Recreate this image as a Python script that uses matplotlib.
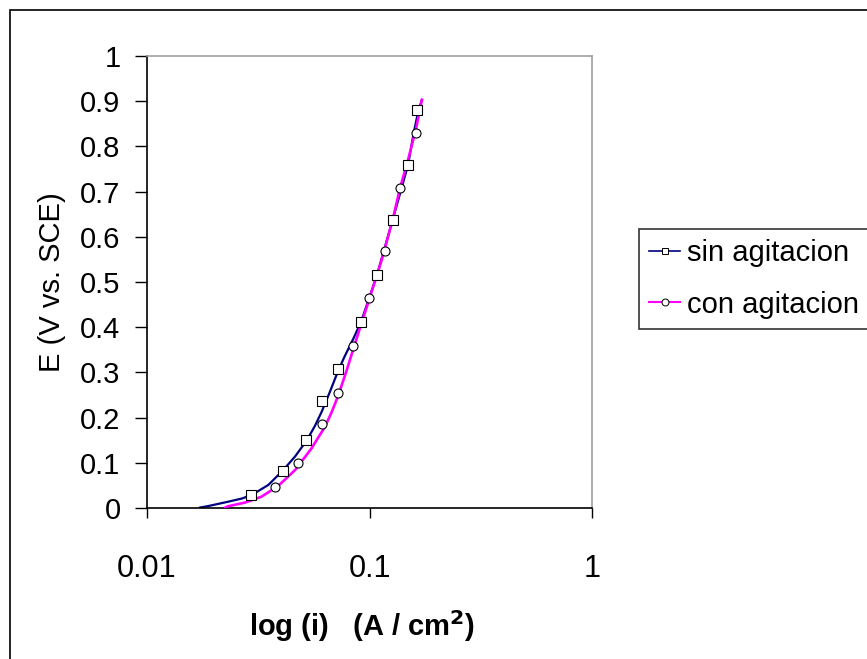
import matplotlib
matplotlib.use('Agg')
import matplotlib.pyplot as plt
from matplotlib.lines import Line2D
from matplotlib.patches import Rectangle

plt.rcParams['font.family'] = ['Liberation Sans', 'DejaVu Sans']

# curve traces (current density A/cm2, potential V vs SCE)
sin_line_i = [0.0173, 0.0189, 0.0232, 0.0267, 0.0296, 0.0351, 0.0408, 0.0463, 0.0523,
              0.0569, 0.0611, 0.0665, 0.0725, 0.0776, 0.0845, 0.0918, 0.108, 0.127,
              0.149, 0.158, 0.166, 0.172]
sin_line_E = [0.001, 0.0044, 0.014, 0.021, 0.029, 0.051, 0.083, 0.114, 0.150,
              0.182, 0.214, 0.258, 0.305, 0.337, 0.374, 0.413, 0.515, 0.637,
              0.759, 0.830, 0.880, 0.903]
con_line_i = [0.0225, 0.0232, 0.0276, 0.0327, 0.0389, 0.0463, 0.0549, 0.0631, 0.0676,
              0.0725, 0.0790, 0.0846, 0.0922, 0.0998, 0.1135, 0.127, 0.137, 0.149,
              0.162, 0.172]
con_line_E = [0.001, 0.004, 0.012, 0.025, 0.049, 0.084, 0.132, 0.180, 0.212,
              0.250, 0.305, 0.352, 0.410, 0.462, 0.549, 0.637, 0.707, 0.770,
              0.840, 0.903]

# marker points
sin_mk_i = [0.0293, 0.0410, 0.0519, 0.0613, 0.0721, 0.0918, 0.108, 0.127, 0.149, 0.163]
sin_mk_E = [0.029, 0.082, 0.150, 0.237, 0.307, 0.411, 0.515, 0.637, 0.759, 0.880]
con_mk_i = [0.0376, 0.0479, 0.0613, 0.0721, 0.0846, 0.0995, 0.118, 0.137, 0.162]
con_mk_E = [0.047, 0.099, 0.185, 0.255, 0.359, 0.464, 0.568, 0.707, 0.829]

y_ticks = [0, 0.1, 0.2, 0.3, 0.4, 0.5, 0.6, 0.7, 0.8, 0.9, 1]
y_labels = ['0', '0.1', '0.2', '0.3', '0.4', '0.5', '0.6', '0.7', '0.8', '0.9', '1']
x_ticks = [0.01, 0.1, 1]
x_labels = ['0.01', '0.1', '1']

W, H = 867, 659
fig = plt.figure(figsize=(W / 100, H / 100), dpi=100)
ax = fig.add_axes([147 / W, (H - 508) / H, 445 / W, 452 / H])

navy = '#000080'
magenta = '#ff00ff'

ax.plot(sin_line_i, sin_line_E, color=navy, lw=1.6, zorder=2)
ax.plot(con_line_i, con_line_E, color=magenta, lw=1.9, zorder=3)
ax.plot(sin_mk_i, sin_mk_E, ls='none', marker='s', ms=6.5, mfc='white', mec='black', mew=0.8, zorder=4)
ax.plot(con_mk_i, con_mk_E, ls='none', marker='o', ms=6.5, mfc='white', mec='black', mew=0.8, zorder=4)

ax.set_xscale('log')
ax.set_xlim(0.01, 1)
ax.set_ylim(0, 1)
ax.set_xticks(x_ticks)
ax.set_xticklabels(x_labels)
ax.minorticks_off()
ax.set_yticks(y_ticks)
ax.set_yticklabels(y_labels)
ax.tick_params(axis='y', direction='out', length=9, width=1, labelsize=21, pad=10)
ax.tick_params(axis='x', direction='out', length=7, width=1, labelsize=22, pad=26)

for s in ['left', 'bottom']:
    ax.spines[s].set_color('black')
    ax.spines[s].set_linewidth(1.2)
for s in ['top', 'right']:
    ax.spines[s].set_color('#a0a0a0')
    ax.spines[s].set_linewidth(1.2)

ax.set_ylabel('E (V vs. SCE)', fontsize=21, labelpad=10)
ax.set_xlabel('log (i)   (A / cm$^\\mathbf{2}$)', fontsize=21, fontweight='bold')
ax.xaxis.set_label_coords((362 - 147) / 445, -(608 - 508) / 452)

handles = [
    Line2D([], [], color=navy, lw=1.2, marker='s', ms=5, mfc='white', mec='black', mew=0.7),
    Line2D([], [], color=magenta, lw=1.5, marker='o', ms=5, mfc='white', mec='black', mew=0.7),
]
leg = fig.legend(handles, ['sin agitacion', 'con agitacion'], loc='upper left',
                 bbox_to_anchor=(639 / W, 1 - 229 / H), fontsize=21, frameon=True,
                 fancybox=False, edgecolor='black', borderpad=0.35, handlelength=1.05,
                 handletextpad=0.25, labelspacing=0.8, borderaxespad=0)
leg.get_frame().set_linewidth(1.2)

# outer chart border
fig.patches.append(Rectangle((10 / W, -0.1), 1.2, 1 - 10 / H + 0.1, transform=fig.transFigure,
                             fill=False, edgecolor='black', lw=1.2, clip_on=False))

fig.savefig('out.png', dpi=100)
